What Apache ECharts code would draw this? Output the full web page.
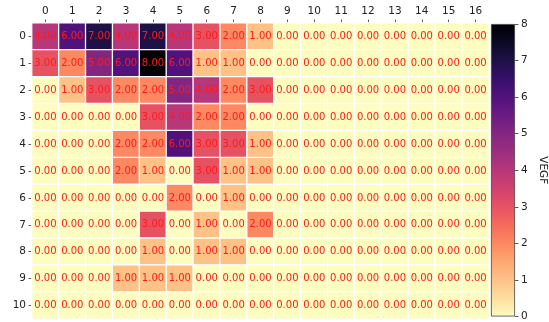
<!DOCTYPE html>
<html>
<head>
<meta charset="utf-8">
<script src="https://cdn.jsdelivr.net/npm/echarts@6/dist/echarts.min.js"></script>
<style>
  html, body { margin: 0; padding: 0; background: #fff; }
  #chart { width: 549px; height: 322px; }
</style>
</head>
<body>
<div id="chart"></div>
<script>
// Column and row tick labels
const xLabels = ['0','1','2','3','4','5','6','7','8','9','10','11','12','13','14','15','16'];
const yLabels = ['0','1','2','3','4','5','6','7','8','9','10'];

// VEGF values, one array per row
const row0  = [4, 6, 7, 4, 7, 4, 3, 2, 1, 0, 0, 0, 0, 0, 0, 0, 0];
const row1  = [3, 2, 5, 6, 8, 6, 1, 1, 0, 0, 0, 0, 0, 0, 0, 0, 0];
const row2  = [0, 1, 3, 2, 2, 5, 4, 2, 3, 0, 0, 0, 0, 0, 0, 0, 0];
const row3  = [0, 0, 0, 0, 3, 4, 2, 2, 0, 0, 0, 0, 0, 0, 0, 0, 0];
const row4  = [0, 0, 0, 2, 2, 6, 3, 3, 1, 0, 0, 0, 0, 0, 0, 0, 0];
const row5  = [0, 0, 0, 2, 1, 0, 3, 1, 1, 0, 0, 0, 0, 0, 0, 0, 0];
const row6  = [0, 0, 0, 0, 0, 2, 0, 1, 0, 0, 0, 0, 0, 0, 0, 0, 0];
const row7  = [0, 0, 0, 0, 3, 0, 1, 0, 2, 0, 0, 0, 0, 0, 0, 0, 0];
const row8  = [0, 0, 0, 0, 1, 0, 1, 1, 0, 0, 0, 0, 0, 0, 0, 0, 0];
const row9  = [0, 0, 0, 1, 1, 1, 0, 0, 0, 0, 0, 0, 0, 0, 0, 0, 0];
const row10 = [0, 0, 0, 0, 0, 0, 0, 0, 0, 0, 0, 0, 0, 0, 0, 0, 0];
const rows = [row0, row1, row2, row3, row4, row5, row6, row7, row8, row9, row10];

// Colour bar range and ticks
const vMin = 0;
const vMax = 8;
const barTicks = ['0','1','2','3','4','5','6','7','8'];

// magma_r palette, evenly spaced from low to high
const magmaR = [
  '#fcfdbf','#fddea0','#fec287','#fea772','#fc8961','#f56b5c','#e75263','#d0416f',
  '#b73779','#9c2e7f','#832681','#6a1c81','#51127c','#36106b','#1d1147','#0b0924','#000004'
];

const heatData = [];
rows.forEach((r, yi) => r.forEach((v, xi) => heatData.push([xi, yi, v])));

const tickFont = { fontFamily: 'DejaVu Sans', fontSize: 10.5, color: '#222' };

const chart = echarts.init(document.getElementById('chart'), null, { renderer: 'canvas' });
chart.setOption({
  animation: false,
  backgroundColor: '#fff',
  grid: [
    { left: 32, right: 60, top: 23, bottom: 3 },
    { left: 491, right: 34, top: 24, bottom: 2 }
  ],
  xAxis: [
    {
      type: 'category', data: xLabels, position: 'top', gridIndex: 0,
      axisLine: { show: false },
      axisTick: { show: true, alignWithLabel: true, length: 3.5, lineStyle: { color: '#333', width: 0.8 } },
      axisLabel: Object.assign({ margin: 6 }, tickFont),
      splitLine: { show: false }
    },
    {
      type: 'category', data: ['VEGF'], gridIndex: 1, show: false
    }
  ],
  yAxis: [
    {
      type: 'category', data: yLabels, inverse: true, gridIndex: 0,
      axisLine: { show: false },
      axisTick: { show: true, alignWithLabel: true, length: 3.5, lineStyle: { color: '#333', width: 0.8 } },
      axisLabel: Object.assign({ margin: 6 }, tickFont),
      splitLine: { show: false }
    },
    {
      type: 'value', gridIndex: 1, position: 'right', min: vMin, max: vMax, interval: 1,
      axisLine: { show: false },
      axisTick: { show: true, length: 3.5, lineStyle: { color: '#333', width: 0.8 } },
      axisLabel: Object.assign({ margin: 6, formatter: (v) => barTicks[v - vMin] }, tickFont),
      splitLine: { show: false },
      name: 'VEGF', nameLocation: 'middle', nameRotate: -90, nameGap: 22,
      nameTextStyle: { fontFamily: 'DejaVu Sans', fontSize: 10.5, color: '#222' }
    }
  ],
  visualMap: {
    show: false, type: 'continuous', min: vMin, max: vMax, seriesIndex: 0,
    inRange: { color: magmaR }
  },
  series: [
    {
      type: 'heatmap', xAxisIndex: 0, yAxisIndex: 0, data: heatData,
      itemStyle: { borderColor: '#fff', borderWidth: 1.3 },
      label: {
        show: true, color: '#ff1a1a', fontFamily: 'DejaVu Sans', fontSize: 10,
        formatter: (p) => p.value[2].toFixed(2)
      },
      emphasis: { disabled: true }
    },
    {
      type: 'bar', xAxisIndex: 1, yAxisIndex: 1, data: [vMax], barWidth: '100%',
      silent: true,
      itemStyle: {
        borderColor: '#444', borderWidth: 0.8,
        color: new echarts.graphic.LinearGradient(0, 1, 0, 0,
          magmaR.map((c, i) => ({ offset: i / (magmaR.length - 1), color: c })))
      }
    }
  ]
});
</script>
</body>
</html>
